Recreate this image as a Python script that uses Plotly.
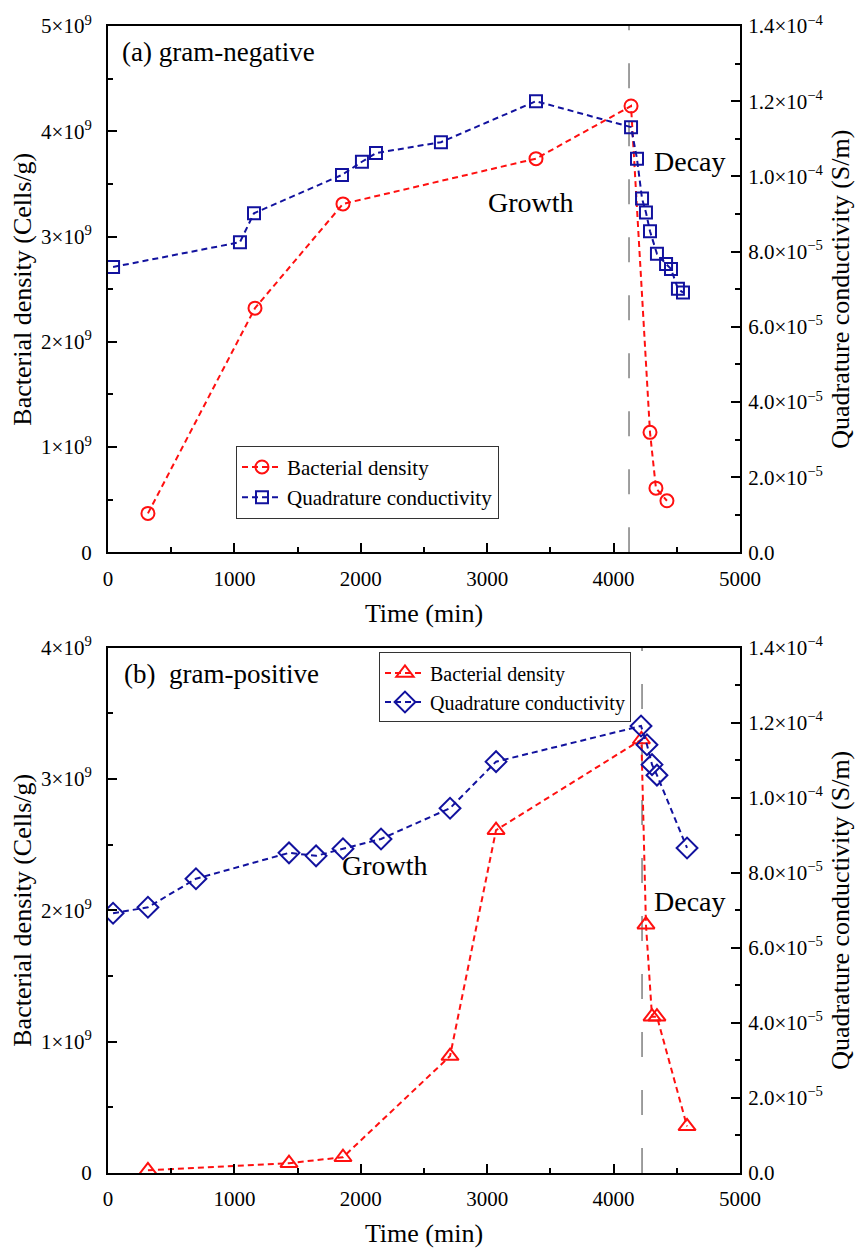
import plotly.graph_objects as go

# ---- (a) gram-negative ----
neg_time_density = [316, 1163, 1859, 3386, 4138, 4288, 4335, 4422]
neg_density = [0.37e9, 2.32e9, 3.31e9, 3.74e9, 4.24e9, 1.14e9, 0.61e9, 0.49e9]

neg_time_cond = [40, 1044, 1155, 1851, 2009, 2120, 2634, 3386, 4138, 4185,
                 4225, 4256, 4288, 4343, 4415, 4454, 4509, 4549]
neg_cond = [7.59e-5, 8.25e-5, 9.02e-5, 10.04e-5, 10.39e-5, 10.62e-5, 10.91e-5,
            12.0e-5, 11.31e-5, 10.47e-5, 9.41e-5, 9.04e-5, 8.54e-5, 7.94e-5,
            7.67e-5, 7.54e-5, 7.01e-5, 6.91e-5]
neg_decay_onset = 4122

# ---- (b) gram-positive ----
pos_time_density = [316, 1432, 1859, 2706, 3070, 4220, 4256, 4304, 4343, 4581]
pos_density = [0.02e9, 0.075e9, 0.12e9, 0.89e9, 2.61e9, 3.30e9, 1.89e9,
               1.19e9, 1.19e9, 0.355e9]

pos_time_cond = [40, 316, 696, 1432, 1646, 1859, 2160, 2706, 3070, 4217,
                 4264, 4304, 4343, 4581]
pos_cond = [6.92e-5, 7.08e-5, 7.84e-5, 8.53e-5, 8.45e-5, 8.64e-5, 8.9e-5,
            9.72e-5, 10.96e-5, 11.91e-5, 11.41e-5, 10.88e-5, 10.6e-5, 8.66e-5]
pos_decay_onset = 4225

# ---- tick labels ----
x_ticks = [0, 1000, 2000, 3000, 4000, 5000]
neg_density_ticks = [0, 1e9, 2e9, 3e9, 4e9, 5e9]
neg_density_labels = ["0", "1×10<sup>9</sup>", "2×10<sup>9</sup>", "3×10<sup>9</sup>",
                      "4×10<sup>9</sup>", "5×10<sup>9</sup>"]
pos_density_ticks = [0, 1e9, 2e9, 3e9, 4e9]
pos_density_labels = ["0", "1×10<sup>9</sup>", "2×10<sup>9</sup>", "3×10<sup>9</sup>",
                      "4×10<sup>9</sup>"]
cond_ticks = [0, 2e-5, 4e-5, 6e-5, 8e-5, 1e-4, 1.2e-4, 1.4e-4]
cond_labels = ["0.0", "2.0×10<sup>−5</sup>", "4.0×10<sup>−5</sup>", "6.0×10<sup>−5</sup>",
               "8.0×10<sup>−5</sup>", "1.0×10<sup>−4</sup>", "1.2×10<sup>−4</sup>",
               "1.4×10<sup>−4</sup>"]

RED = "#FF1010"
BLUE = "#12129E"
FONT = "Liberation Serif"

fig = go.Figure()

fig.add_trace(go.Scatter(
    x=neg_time_density, y=neg_density, name="Bacterial density",
    mode="lines+markers", xaxis="x", yaxis="y", legend="legend",
    line=dict(color=RED, width=2, dash="6px,4px"),
    marker=dict(symbol="circle-open", size=13, color=RED, line=dict(width=2, color=RED)),
))
fig.add_trace(go.Scatter(
    x=neg_time_cond, y=neg_cond, name="Quadrature conductivity",
    mode="lines+markers", xaxis="x", yaxis="y2", legend="legend",
    line=dict(color=BLUE, width=2, dash="6px,4px"),
    marker=dict(symbol="square-open", size=12, color=BLUE, line=dict(width=2, color=BLUE)),
))
fig.add_trace(go.Scatter(
    x=pos_time_density, y=pos_density, name="Bacterial density",
    mode="lines+markers", xaxis="x2", yaxis="y3", legend="legend2",
    line=dict(color=RED, width=2, dash="6px,4px"),
    marker=dict(symbol="triangle-up-open", size=15, color=RED, line=dict(width=2, color=RED)),
))
fig.add_trace(go.Scatter(
    x=pos_time_cond, y=pos_cond, name="Quadrature conductivity",
    mode="lines+markers", xaxis="x2", yaxis="y4", legend="legend2",
    line=dict(color=BLUE, width=2, dash="6px,4px"),
    marker=dict(symbol="diamond-open", size=16, color=BLUE, line=dict(width=2, color=BLUE)),
))

tickfont = dict(family=FONT, size=21, color="black")
titlefont = dict(family=FONT, size=26, color="black")

def x_axis(anchor):
    return dict(
        anchor=anchor, domain=[0, 1], range=[0, 5000],
        tickmode="array", tickvals=x_ticks, ticktext=[str(v) for v in x_ticks],
        ticks="inside", ticklen=9, tickwidth=2, tickcolor="black",
        minor=dict(tickmode="linear", tick0=0, dtick=500, ticks="inside",
                   ticklen=5, tickwidth=2, tickcolor="black"),
        showline=True, linewidth=2, linecolor="black", mirror=True,
        showgrid=False, zeroline=False, tickfont=tickfont, ticklabelstandoff=6,
        title=dict(text="Time (min)", font=titlefont, standoff=14),
    )

def left_axis(anchor, domain, top, vals, labels):
    return dict(
        anchor=anchor, domain=domain, range=[0, top],
        tickmode="array", tickvals=vals, ticktext=labels,
        ticks="inside", ticklen=9, tickwidth=2, tickcolor="black",
        minor=dict(tickmode="linear", tick0=0, dtick=0.5e9, ticks="inside",
                   ticklen=5, tickwidth=2, tickcolor="black"),
        showline=True, linewidth=2, linecolor="black",
        showgrid=False, zeroline=False, tickfont=tickfont, ticklabelstandoff=10,
        title=dict(text="Bacterial density (Cells/g)", font=titlefont, standoff=2),
    )

def right_axis(anchor, overlay):
    return dict(
        anchor=anchor, overlaying=overlay, side="right", range=[0, 1.4e-4],
        tickmode="array", tickvals=cond_ticks, ticktext=cond_labels,
        ticks="inside", ticklen=9, tickwidth=2, tickcolor="black",
        minor=dict(tickmode="linear", tick0=0, dtick=1e-5, ticks="inside",
                   ticklen=5, tickwidth=2, tickcolor="black"),
        showline=True, linewidth=2, linecolor="black",
        showgrid=False, zeroline=False, tickfont=tickfont, ticklabelstandoff=2,
        title=dict(text="Quadrature conductivity (S/m)", font=titlefont, standoff=8),
    )

top_domain = [0.5411, 1.0]
bottom_domain = [0.0, 0.4581]

legend_style = dict(
    bgcolor="white", bordercolor="#333333", borderwidth=1,
    tracegroupgap=0, itemwidth=40,
)

fig.update_layout(
    width=864, height=1255,
    margin=dict(l=108, r=124, t=18, b=80),
    paper_bgcolor="white", plot_bgcolor="white",
    font=dict(family=FONT, color="black"),
    xaxis=x_axis("y"),
    yaxis=left_axis("x", top_domain, 5e9, neg_density_ticks, neg_density_labels),
    yaxis2=right_axis("x", "y"),
    xaxis2=x_axis("y3"),
    yaxis3=left_axis("x2", bottom_domain, 4e9, pos_density_ticks, pos_density_labels),
    yaxis4=right_axis("x2", "y3"),
    legend=dict(x=0.2025, y=0.634, xanchor="left", yanchor="top",
                font=dict(family=FONT, size=21, color="black"), **legend_style),
    legend2=dict(x=0.8275, y=0.4538, xanchor="right", yanchor="top",
                 font=dict(family=FONT, size=20, color="black"), **legend_style),
    showlegend=True,
)

# onset of the decay phase
for xref, yref, onset in (("x", "y domain", neg_decay_onset),
                          ("x2", "y3 domain", pos_decay_onset)):
    fig.add_shape(type="line", xref=xref, yref=yref,
                  x0=onset, x1=onset, y0=0, y1=1,
                  line=dict(color="#7F7F7F", width=1.5, dash="25px,33px"), layer="below")

ann_font = dict(family=FONT, size=28, color="black")
fig.add_annotation(text="(a) gram-negative", xref="x domain", yref="y domain",
                   x=0.019, y=0.95, xanchor="left", yanchor="middle", showarrow=False,
                   font=dict(family=FONT, size=27, color="black"))
fig.add_annotation(text="Growth", xref="x", yref="y", x=3347, y=3.32e9,
                   showarrow=False, font=ann_font)
fig.add_annotation(text="Decay", xref="x", yref="y", x=4604, y=3.71e9,
                   showarrow=False, font=ann_font)
fig.add_annotation(text="(b)  gram-positive", xref="x2 domain", yref="y3 domain",
                   x=0.022, y=0.95, xanchor="left", yanchor="middle", showarrow=False,
                   font=dict(family=FONT, size=27, color="black"))
fig.add_annotation(text="Growth", xref="x2", yref="y3", x=2191, y=2.34e9,
                   showarrow=False, font=ann_font)
fig.add_annotation(text="Decay", xref="x2", yref="y3", x=4604, y=2.07e9,
                   showarrow=False, font=ann_font)

fig.write_html("out.html")
